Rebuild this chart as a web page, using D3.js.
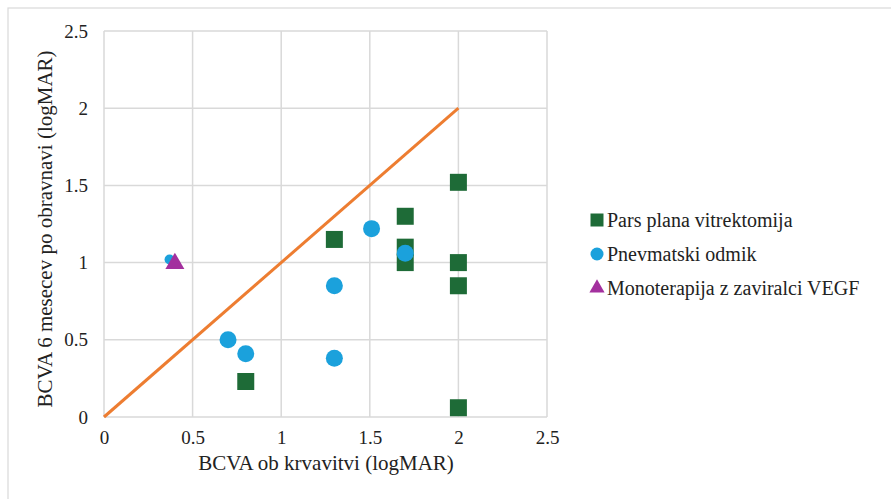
<!DOCTYPE html>
<html><head><meta charset="utf-8">
<script src="https://cdn.jsdelivr.net/npm/d3@7"></script>
</head><body style="margin:0">
<svg id="c" width="891" height="499"></svg>
<script>
const xTicks = [0, 0.5, 1, 1.5, 2, 2.5];
const yTicks = [0, 0.5, 1, 1.5, 2, 2.5];
const seriesNames = ["Pars plana vitrektomija", "Pnevmatski odmik", "Monoterapija z zaviralci VEGF"];
const ppvX = [1.7, 1.3, 1.7, 1.7, 2.0, 2.0, 0.8, 2.0, 2.0];
const ppvY = [1.3, 1.15, 1.1, 1.0, 1.0, 0.85, 0.23, 0.06, 1.52];
const pnX = [1.51, 1.7, 1.3, 0.7, 0.8, 1.3, 0.37];
const pnY = [1.22, 1.06, 0.85, 0.5, 0.41, 0.38, 1.02];
const vegfX = [0.4];
const vegfY = [1.0];
const refLineX = [0, 2];
const refLineY = [0, 2];

const FONT = "Liberation Serif";
const TXT = "#222";
const svg = d3.select("#c");
const m = {l: 104, t: 31, r: 547, b: 417};
const x = d3.scaleLinear().domain([0, 2.5]).range([m.l, m.r]);
const y = d3.scaleLinear().domain([0, 2.5]).range([m.b, m.t]);

// outer border
svg.append("rect").attr("x", 8).attr("y", 8).attr("width", 900).attr("height", 520)
  .attr("fill", "none").attr("stroke", "#d9d9d9").attr("stroke-width", 1.2);

// gridlines
const g = svg.append("g");
g.selectAll("line.v").data(xTicks).join("line")
  .attr("x1", d => x(d)).attr("x2", d => x(d)).attr("y1", y(0)).attr("y2", y(2.5))
  .attr("stroke", "#d9d9d9").attr("stroke-width", 1.5);
g.selectAll("line.h").data(yTicks).join("line")
  .attr("y1", d => y(d)).attr("y2", d => y(d)).attr("x1", x(0)).attr("x2", x(2.5))
  .attr("stroke", "#d9d9d9").attr("stroke-width", 1.5);

// axes with tick labels
const xAxis = d3.axisBottom(x).tickValues(xTicks).tickSize(0).tickPadding(14).tickFormat(d3.format("~g"));
const yAxis = d3.axisLeft(y).tickValues(yTicks).tickSize(0).tickPadding(16).tickFormat(d3.format("~g"));
const xa = svg.append("g").attr("transform", `translate(0,${y(0)})`).call(xAxis);
const ya = svg.append("g").attr("transform", `translate(${x(0)},0)`).call(yAxis);
[xa, ya].forEach(a => {
  a.select(".domain").remove();
  a.attr("font-family", FONT).attr("font-size", 19);
  a.selectAll("text").attr("fill", TXT);
});

// reference line
svg.append("line")
  .attr("x1", x(refLineX[0])).attr("y1", y(refLineY[0]))
  .attr("x2", x(refLineX[1])).attr("y2", y(refLineY[1]))
  .attr("stroke", "#ed7d31").attr("stroke-width", 3);

const cGreen = "#1e6b37", cBlue = "#1ba1dc", cPurple = "#a3309e";
const sq = d3.symbol().type(d3.symbolSquare).size(17 * 17);
const ciBig = d3.symbol().type(d3.symbolCircle).size(Math.PI * 8.5 * 8.5);
const ciSmall = d3.symbol().type(d3.symbolCircle).size(Math.PI * 5 * 5);
const tr = d3.symbol().type(d3.symbolTriangle).size(156);

svg.append("g").selectAll("path").data(ppvX.map((v, i) => [v, ppvY[i]])).join("path")
  .attr("d", sq).attr("transform", d => `translate(${x(d[0])},${y(d[1])})`).attr("fill", cGreen);
svg.append("g").selectAll("path").data(pnX.map((v, i) => [v, pnY[i]])).join("path")
  .attr("d", (d, i) => i === pnX.length - 1 ? ciSmall() : ciBig())
  .attr("transform", d => `translate(${x(d[0])},${y(d[1])})`).attr("fill", cBlue);
svg.append("g").selectAll("path").data(vegfX.map((v, i) => [v, vegfY[i]])).join("path")
  .attr("d", tr).attr("transform", d => `translate(${x(d[0])},${y(d[1]) + 1})`).attr("fill", cPurple);

// axis titles
svg.append("text").attr("x", 326).attr("y", 470).attr("text-anchor", "middle")
  .attr("font-family", FONT).attr("font-size", 21).attr("fill", TXT).text("BCVA ob krvavitvi (logMAR)");
svg.append("text").attr("transform", `translate(52,229) rotate(-90)`).attr("text-anchor", "middle")
  .attr("font-family", FONT).attr("font-size", 21).attr("fill", TXT).text("BCVA 6 mesecev po obravnavi (logMAR)");

// legend
const legY = [220, 254, 288];
const legSyms = [d3.symbol().type(d3.symbolSquare).size(13 * 13), d3.symbol().type(d3.symbolCircle).size(Math.PI * 6.5 * 6.5), d3.symbol().type(d3.symbolTriangle).size(100)];
const legCols = [cGreen, cBlue, cPurple];
const leg = svg.append("g");
seriesNames.forEach((n, i) => {
  leg.append("path").attr("d", legSyms[i]).attr("transform", `translate(597,${legY[i]})`).attr("fill", legCols[i]);
  leg.append("text").attr("x", 607).attr("y", legY[i] + 7).attr("font-family", FONT)
    .attr("font-size", 20).attr("fill", TXT).text(n);
});
</script>
</body></html>
